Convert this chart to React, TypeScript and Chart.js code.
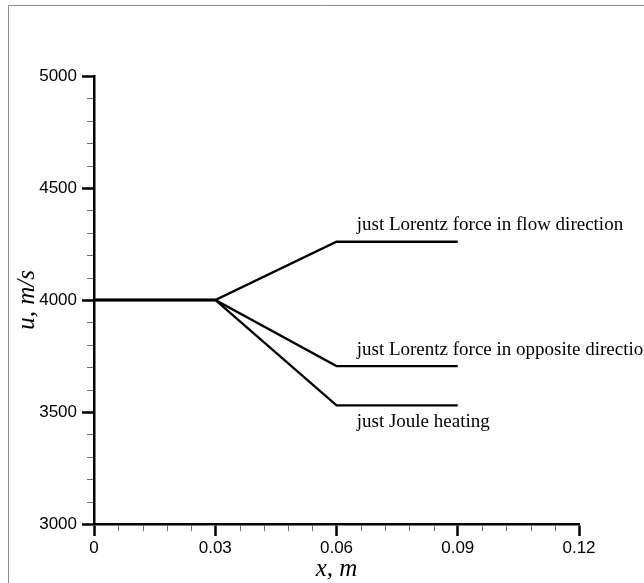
import React, { useEffect, useRef } from "react";
import { Chart, registerables } from "chart.js";

Chart.register(...registerables);

// ---- data ----
const xValues = [0, 0.03, 0.06, 0.09];
const flowDirection = [4000, 4000, 4260, 4260];
const oppositeDirection = [4000, 4000, 3705, 3705];
const jouleHeating = [4000, 4000, 3530, 3530];

const xTicks = [0, 0.03, 0.06, 0.09, 0.12];
const xTickLabels = ["0", "0.03", "0.06", "0.09", "0.12"];
const yTicks = [3000, 3500, 4000, 4500, 5000];
const yTickLabels = ["3000", "3500", "4000", "4500", "5000"];

const annotationTexts = [
  "just Lorentz force in flow direction",
  "just Lorentz force in opposite direction",
  "just Joule heating",
];
const annotationX = [0.065, 0.065, 0.065];
const annotationY = [4260, 3705, 3530];

// styles (pixel offsets for annotation text baselines)
const annotationDy = [-12, -11, 22];

const X_MIN = 0, X_MAX = 0.12, Y_MIN = 3000, Y_MAX = 5000;
const X_MINOR_STEP = 0.006, Y_MINOR_STEP = 100;

const decorPlugin = {
  id: "decor",
  beforeDraw(chart: any) {
    const ctx = chart.ctx;
    ctx.save();
    ctx.fillStyle = "#fff";
    ctx.fillRect(0, 0, chart.width, chart.height);
    ctx.strokeStyle = "#8a8a8a";
    ctx.lineWidth = 1;
    ctx.beginPath();
    ctx.moveTo(8.5, chart.height);
    ctx.lineTo(8.5, 5.5);
    ctx.lineTo(chart.width, 5.5);
    ctx.stroke();
    ctx.restore();
  },
  afterDraw(chart: any) {
    const ctx = chart.ctx;
    const x = chart.scales.x;
    const y = chart.scales.y;
    const area = chart.chartArea;
    ctx.save();
    ctx.strokeStyle = "#6e6e6e";
    ctx.lineWidth = 1;
    ctx.beginPath();
    const ny = Math.round((Y_MAX - Y_MIN) / Y_MINOR_STEP);
    for (let i = 0; i <= ny; i++) {
      const v = Y_MIN + i * Y_MINOR_STEP;
      if (yTicks.some((t) => Math.abs(t - v) < 1e-6)) continue;
      const py = Math.round(y.getPixelForValue(v)) + 0.5;
      ctx.moveTo(area.left - 7, py);
      ctx.lineTo(area.left - 1, py);
    }
    const nx = Math.round((X_MAX - X_MIN) / X_MINOR_STEP);
    for (let i = 0; i <= nx; i++) {
      const v = X_MIN + i * X_MINOR_STEP;
      if (xTicks.some((t) => Math.abs(t - v) < 1e-9)) continue;
      const px = Math.round(x.getPixelForValue(v)) + 0.5;
      ctx.moveTo(px, area.bottom + 1);
      ctx.lineTo(px, area.bottom + 7);
    }
    ctx.stroke();

    ctx.fillStyle = "#000";
    ctx.font = '19px "Liberation Serif", "Times New Roman", serif';
    ctx.textAlign = "left";
    ctx.textBaseline = "alphabetic";
    annotationTexts.forEach((t, i) => {
      ctx.fillText(
        t,
        x.getPixelForValue(annotationX[i]),
        y.getPixelForValue(annotationY[i]) + annotationDy[i]
      );
    });
    ctx.restore();
  },
};

function makeSeries(vals: number[]) {
  return xValues.map((xv, i) => ({ x: xv, y: vals[i] }));
}

export default function App() {
  const ref = useRef<HTMLCanvasElement | null>(null);
  useEffect(() => {
    if (!ref.current) return;
    const lineStyle = {
      borderColor: "#000",
      borderWidth: 2.3,
      pointRadius: 0,
      tension: 0,
      fill: false,
    };
    const chart = new Chart(ref.current, {
      type: "line",
      data: {
        datasets: [
          { label: "flow", data: makeSeries(flowDirection), ...lineStyle },
          { label: "opposite", data: makeSeries(oppositeDirection), ...lineStyle },
          { label: "joule", data: makeSeries(jouleHeating), ...lineStyle },
        ],
      },
      options: {
        responsive: false,
        animation: false,
        devicePixelRatio: 1,
        layout: { padding: { top: 76, right: 65, left: 0, bottom: 0 } },
        plugins: { legend: { display: false }, tooltip: { enabled: false } },
        scales: {
          x: {
            type: "linear",
            min: X_MIN,
            max: X_MAX,
            afterFit(scale: any) {
              scale.height = 59;
            },
            afterBuildTicks(scale: any) {
              scale.ticks = xTicks.map((v) => ({ value: v }));
            },
            ticks: {
              color: "#000",
              font: { family: "Liberation Sans", size: 17 },
              padding: 2,
              maxRotation: 0,
              autoSkip: false,
              callback: (v: any, i: number) => xTickLabels[i],
            },
            grid: {
              drawOnChartArea: false,
              drawTicks: true,
              tickLength: 12,
              tickWidth: 2.5,
              tickColor: "#000",
            },
            border: { display: true, color: "#000", width: 2.5 },
            title: {
              display: true,
              text: "x, m",
              color: "#000",
              font: { family: "Liberation Serif", style: "italic", size: 25 },
              padding: { top: 0, bottom: -1 },
            },
          },
          y: {
            type: "linear",
            min: Y_MIN,
            max: Y_MAX,
            afterFit(scale: any) {
              scale.width = 94;
            },
            afterBuildTicks(scale: any) {
              scale.ticks = yTicks.map((v) => ({ value: v }));
            },
            ticks: {
              color: "#000",
              font: { family: "Liberation Sans", size: 17 },
              padding: 5,
              autoSkip: false,
              callback: (v: any, i: number) => yTickLabels[i],
            },
            grid: {
              drawOnChartArea: false,
              drawTicks: true,
              tickLength: 12,
              tickWidth: 2.5,
              tickColor: "#000",
            },
            border: { display: true, color: "#000", width: 2.5 },
            title: {
              display: true,
              text: "u, m/s",
              color: "#000",
              font: { family: "Liberation Serif", style: "italic", size: 25 },
              padding: { top: 12, bottom: 0 },
            },
          },
        },
      },
      plugins: [decorPlugin],
    } as any);
    return () => chart.destroy();
  }, []);
  return (
    <div style={{ position: "fixed", left: 0, top: 0, width: 644, height: 583, background: "#fff" }}>
      <canvas ref={ref} width={644} height={583} style={{ display: "block" }} />
    </div>
  );
}
